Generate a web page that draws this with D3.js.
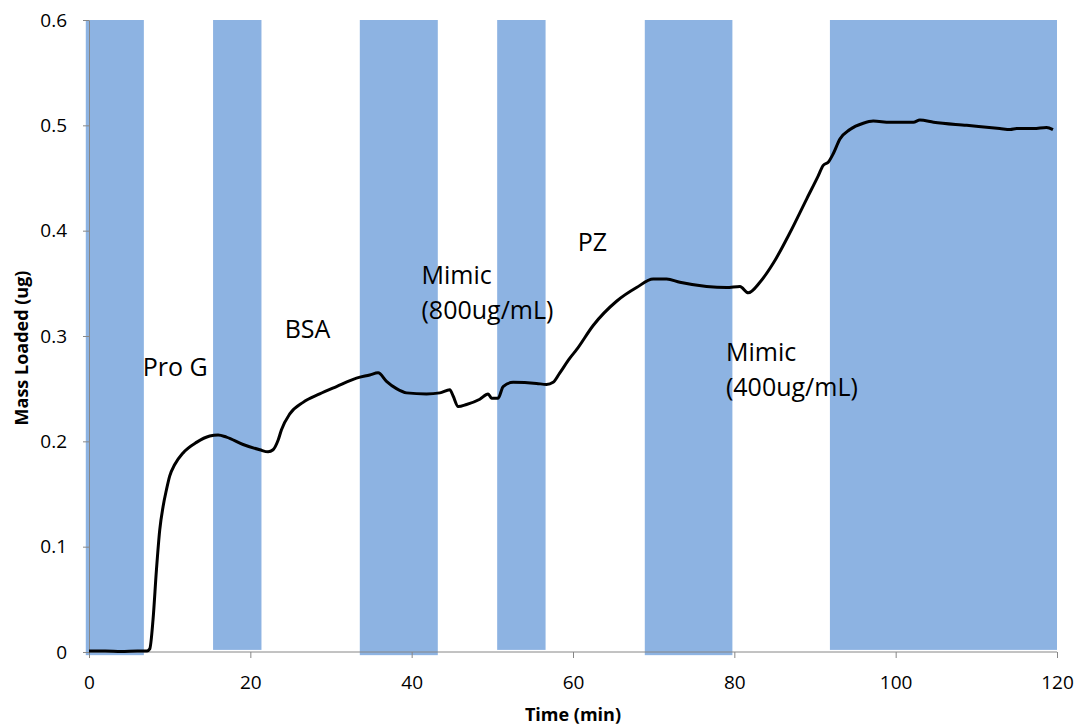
<!DOCTYPE html>
<meta charset="utf-8">
<style>
body { margin: 0; background: #fff; }
.band { fill: #8db3e2; }
.axis path, .axis line { stroke: #868686; }
.axis text { font-family: "Open Sans", sans-serif; font-size: 19px; fill: #000; }
.title { font-family: "Open Sans", sans-serif; font-weight: bold; font-size: 18px; }
.note { font-family: "Open Sans", sans-serif; font-size: 25px; }
.trace { fill: none; stroke: #000; stroke-width: 3px; stroke-linejoin: round; }
</style>
<body>
<script src="https://cdn.jsdelivr.net/npm/d3@7/dist/d3.min.js"></script>
<script>

var width = 1077,
    height = 727,
    margin = {top: 20, right: 20, bottom: 75, left: 89};

// injection periods (min), with the slight offset of each bar's bottom
var bandStart = [-0.4, 15.38, 33.57, 50.6, 68.9, 91.85],
    bandEnd   = [6.8, 21.38, 43.24, 56.6, 79.76, 120],
    bandFloor = [-0.003, 0.002, -0.003, 0.002, -0.003, 0.002];

// mass loaded trace
var time = [0, 2, 4, 6, 7.2, 7.53, 7.94, 8.36, 8.77, 9.18, 9.6, 10.0, 10.63, 11.66, 13.32, 14.97,
  16.0, 17.04, 19.1, 21.17, 22.2, 22.82, 23.44, 23.86, 24.89, 26.54, 28.6, 30.68, 33.16, 34.8,
  35.84, 36.88, 38.12, 39.36, 41.84, 43.49, 44.73, 45.14, 45.76, 46.8, 48.45, 49.48, 49.9, 50.72,
  51.34, 52.58, 55.48, 56.72, 57.54, 58.37, 59.61, 60.44, 62.5, 65.4, 67.88, 69.94, 71.6, 73.25,
  76.56, 79.04, 80.7, 81.72, 83.17, 84.82, 86.89, 88.96, 90.4, 91.02, 91.64, 92.26, 93.09, 94.33,
  95.98, 97.22, 99.3, 100.5, 102.2, 103.0, 104.7, 108.8, 112.9, 114.2, 115.0, 117.1, 118.7, 119.5];
var mass = [0.001, 0.001, 0.0005, 0.001, 0.001, 0.003, 0.031, 0.078, 0.116, 0.138, 0.154, 0.167, 0.178, 0.189, 0.199, 0.205,
  0.206, 0.204, 0.197, 0.192, 0.190, 0.192, 0.201, 0.211, 0.226, 0.237, 0.245, 0.252, 0.260, 0.263,
  0.265, 0.257, 0.250, 0.246, 0.245, 0.246, 0.249, 0.243, 0.233, 0.235, 0.240, 0.245, 0.241, 0.241,
  0.252, 0.256, 0.255, 0.254, 0.256, 0.265, 0.279, 0.287, 0.310, 0.333, 0.346, 0.354, 0.354, 0.351,
  0.347, 0.346, 0.347, 0.341, 0.351, 0.369, 0.398, 0.430, 0.452, 0.462, 0.465, 0.473, 0.487, 0.496,
  0.502, 0.504, 0.503, 0.503, 0.503, 0.505, 0.503, 0.500, 0.497, 0.496, 0.497, 0.497, 0.498, 0.496];

var xTicks = [0, 20, 40, 60, 80, 100, 120],
    yTicks = [0, 0.1, 0.2, 0.3, 0.4, 0.5, 0.6];

var labels = [
  {t: 6.66, v: 0.262, lines: ["Pro G"]},
  {t: 24.26, v: 0.298, lines: ["BSA"]},
  {t: 41.22, v: 0.349, lines: ["Mimic", "(800ug/mL)"]},
  {t: 60.6, v: 0.381, lines: ["PZ"]},
  {t: 78.96, v: 0.276, lines: ["Mimic", "(400ug/mL)"]}
];

var x = d3.scaleLinear().domain([0, 120]).range([margin.left, width - margin.right]);
var y = d3.scaleLinear().domain([0, 0.6]).range([height - margin.bottom, margin.top]);

var svg = d3.select("body").append("svg")
    .attr("width", width)
    .attr("height", height);

svg.selectAll(".band")
    .data(bandStart)
  .enter().append("rect")
    .attr("class", "band")
    .attr("x", function(d) { return x(d); })
    .attr("width", function(d, i) { return x(bandEnd[i]) - x(d); })
    .attr("y", y(0.6))
    .attr("height", function(d, i) { return y(bandFloor[i]) - y(0.6); });

svg.append("g")
    .attr("class", "axis")
    .attr("transform", "translate(0," + y(0) + ")")
    .call(d3.axisBottom(x).tickValues(xTicks).tickSize(6).tickPadding(18).tickSizeOuter(0))
    .call(function(g) { g.select(".domain").attr("d", "M" + x(0) + ",0H" + x(120)); });

svg.append("g")
    .attr("class", "axis")
    .attr("transform", "translate(" + x(0) + ",0)")
    .call(d3.axisLeft(y).tickValues(yTicks).tickFormat(d3.format("")).tickSize(6).tickPadding(16).tickSizeOuter(0));

var line = d3.line()
    .x(function(d) { return x(d); })
    .y(function(d, i) { return y(mass[i]); })
    .curve(d3.curveMonotoneX);

svg.append("path")
    .datum(time)
    .attr("class", "trace")
    .attr("d", line);

var notes = svg.selectAll(".note")
    .data(labels)
  .enter().append("text")
    .attr("class", "note")
    .attr("x", function(d) { return x(d.t); })
    .attr("y", function(d) { return y(d.v); });

notes.selectAll("tspan")
    .data(function(d) { return d.lines.map(function(s) { return {s: s, t: d.t}; }); })
  .enter().append("tspan")
    .attr("x", function(d) { return x(d.t); })
    .attr("dy", function(d, i) { return i ? 35 : 0; })
    .text(function(d) { return d.s; });

svg.append("text")
    .attr("class", "title")
    .attr("text-anchor", "middle")
    .attr("x", (x(0) + x(120)) / 2)
    .attr("y", 721)
    .text("Time (min)");

svg.append("text")
    .attr("class", "title")
    .attr("text-anchor", "middle")
    .attr("transform", "translate(28," + (y(0.3) + 12) + ") rotate(-90)")
    .text("Mass Loaded (ug)");

</script>
